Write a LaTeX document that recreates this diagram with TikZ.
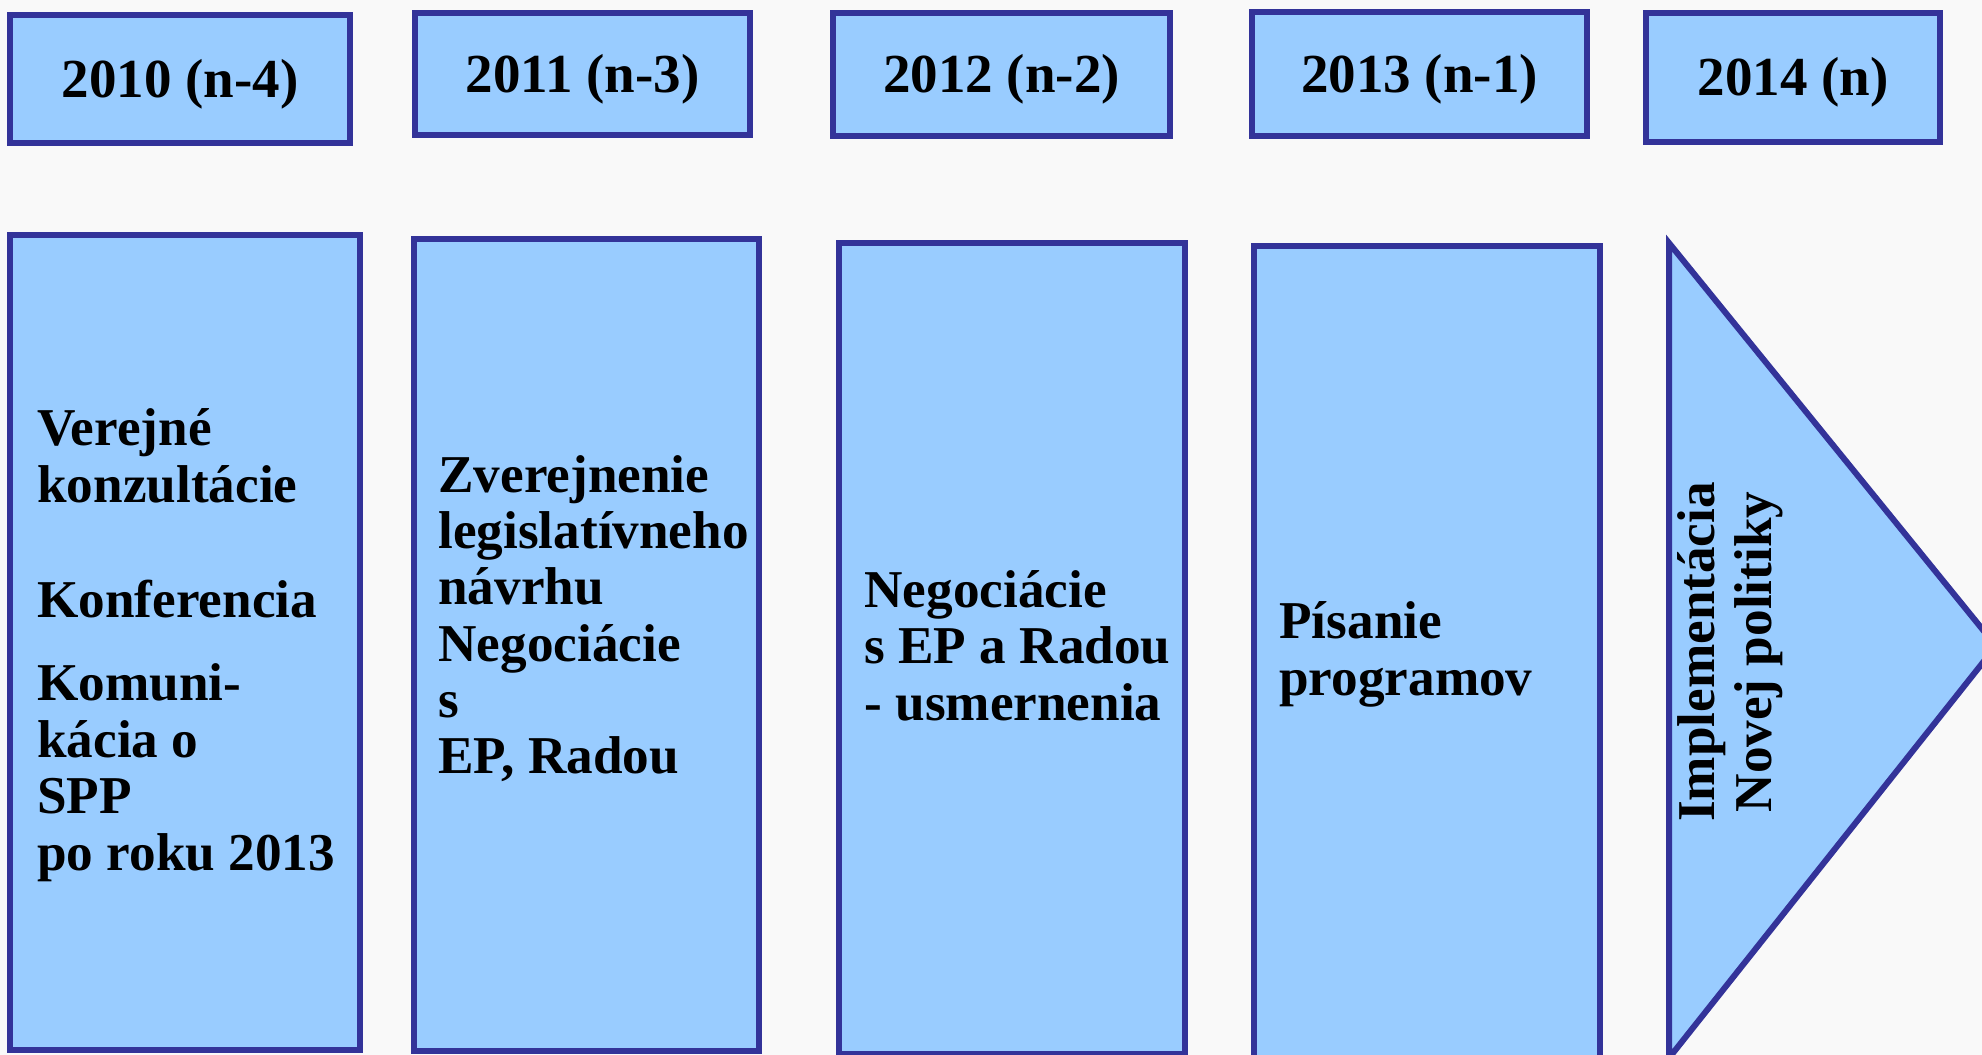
\documentclass[tikz,border=0pt]{standalone}
\usepackage{fontspec}
\setmainfont{Liberation Serif}
\definecolor{boxfill}{HTML}{99CCFF}
\definecolor{bord}{HTML}{333399}
\definecolor{bg}{HTML}{F9F9F9}
\begin{document}
\begin{tikzpicture}[x=0.5pt,y=-0.5pt,
  box/.style={draw=bord, fill=boxfill, line width=3pt, inner sep=0pt, outer sep=0pt},
  yearbox/.style={box, text height=22pt, text depth=4pt, font=\fontsize{27.5}{30}\selectfont\bfseries},
  txt/.style={anchor=base west, inner sep=0pt, font=\fontsize{26.6}{28.5}\selectfont\bfseries}]
\useasboundingbox (0,0) rectangle (1982,1055);
\fill[bg] (0,0) rectangle (1982,1055);
\clip (0,0) rectangle (1982,1055);
% year boxes
\node[yearbox, minimum width=170pt, minimum height=64pt] (y1) at (180,79) {2010 (n-4)};
\node[yearbox, minimum width=167.5pt, minimum height=61pt] (y2) at (582.5,74) {2011 (n-3)};
\node[yearbox, minimum width=168.5pt, minimum height=61.5pt] (y3) at (1001.5,74.5) {2012 (n-2)};
\node[yearbox, minimum width=167.5pt, minimum height=62pt] (y4) at (1419.5,74) {2013 (n-1)};
\node[yearbox, minimum width=147pt, minimum height=64.5pt] (y5) at (1793,77.5) {2014 (n)};
% tall boxes
\node[box, minimum width=175pt, minimum height=407.5pt] (b1) at (185,642.5) {};
\node[box, minimum width=172.5pt, minimum height=406pt] (b2) at (586.5,645) {};
\node[box, minimum width=173pt, minimum height=405.5pt] (b3) at (1012,648.5) {};
\node[box, minimum width=173pt, minimum height=412pt] (b4) at (1427,658) {};
% arrow triangle
\coordinate (ta) at (1669,243);
\coordinate (tb) at (1996,646);
\coordinate (tc) at (1669,1058);
\draw[box, line join=miter] (ta) -- (tb) -- (tc) -- cycle;
% texts box 1
\node[txt] (t11) at (37,445) {Verejné};
\node[txt] (t12) at (37,502) {konzultácie};
\node[txt] (t13) at (37,617) {Konferencia};
\node[txt] (t14) at (37,700) {Komuni-};
\node[txt] (t15) at (37,757) {kácia o};
\node[txt] (t16) at (37,813) {SPP};
\node[txt] (t17) at (37,870) {po roku 2013};
% texts box 2
\node[txt] (t21) at (438,492) {Zverejnenie};
\node[txt] (t22) at (438,548) {legislatívneho};
\node[txt] (t23) at (438,604) {návrhu};
\node[txt] (t24) at (438,661) {Negociácie};
\node[txt] (t25) at (438,717) {s};
\node[txt] (t26) at (438,773) {EP, Radou};
% texts box 3
\node[txt] (t31) at (864,607) {Negociácie};
\node[txt] (t32) at (864,663) {s EP a Radou};
\node[txt] (t33) at (864,720) {- usmernenia};
% texts box 4
\node[txt] (t41) at (1279,638) {Písanie};
\node[txt] (t42) at (1279,695) {programov};
% triangle text
\node[rotate=90, align=center, inner sep=0pt, font=\fontsize{26.6}{28.5}\selectfont\bfseries] (t51) at (1730,652) {Implementácia\\Novej politiky};
\end{tikzpicture}
\end{document}
